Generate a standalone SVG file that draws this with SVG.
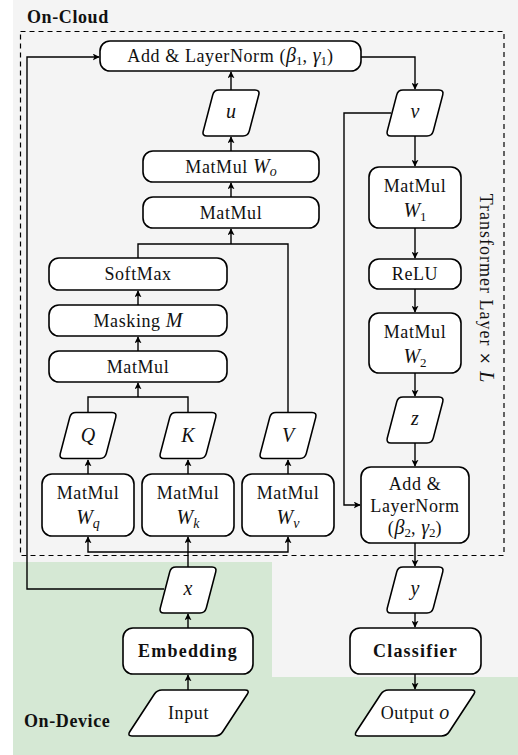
<svg xmlns="http://www.w3.org/2000/svg" width="518" height="755" viewBox="0 0 518 755">
<style>
.box{fill:#fff;stroke:#000;stroke-width:1.6}
.t{font-family:"Liberation Serif","Times New Roman",serif;font-size:18px;letter-spacing:0.6px;fill:#111;text-anchor:middle}
.b{font-weight:bold;letter-spacing:1.2px}
.m{font-family:"Liberation Serif",serif;font-style:italic;font-size:20px;letter-spacing:0}
.s{font-family:"Liberation Serif",serif;font-style:normal;font-size:13px;letter-spacing:0}
.si{font-family:"Liberation Serif",serif;font-style:italic;font-size:14px;letter-spacing:0}
.c{fill:none;stroke:#000;stroke-width:1.4}
.hd{font-family:"Liberation Serif","Times New Roman",serif;font-size:18px;font-weight:bold;letter-spacing:0.6px;fill:#111}
</style>
<defs>
<marker id="ar" viewBox="0 0 10 10" refX="9" refY="5" markerWidth="7" markerHeight="7" markerUnits="userSpaceOnUse" orient="auto">
<path d="M0,0 L10,5 L0,10 L2.5,5 Z" fill="#000"/>
</marker>
<path id="pg" d="M-12,-23 L24,-23 Q29,-23 27.74,-18.16 L18.26,18.16 Q17,23 12,23 L-24,23 Q-29,23 -27.74,18.16 L-18.26,-18.16 Q-17,-23 -12,-23 Z"/>
<path id="pgw" d="M-26.5,-23 L56.5,-23 Q61.5,-23 58.77,-18.81 L34.23,18.81 Q31.5,23 26.5,23 L-56.5,23 Q-61.5,23 -58.77,18.81 L-34.23,-18.81 Q-31.5,-23 -26.5,-23 Z"/>
</defs>
<!-- backgrounds -->
<rect x="0" y="0" width="518" height="755" fill="#fff"/>
<rect x="13" y="0" width="505" height="677" fill="#f4f4f4"/>
<path d="M13,562 H272 V677 H518 V755 H13 Z" fill="#d5e8d4"/>
<text class="hd" x="27" y="23" text-anchor="start">On-Cloud</text>
<text class="hd" x="24" y="727" text-anchor="start">On-Device</text>
<rect x="20.5" y="31.5" width="483.5" height="524" fill="none" stroke="#000" stroke-width="1.2" stroke-dasharray="5,4"/>
<text class="t" transform="translate(480,288) rotate(90)" style="letter-spacing:1px">Transformer Layer  <tspan font-family="DejaVu Sans, sans-serif" font-size="15px">×</tspan>  <tspan class="m" font-size="22px">L</tspan></text>

<g id="connectors">
<path class="c" d="M164,589 H27 V57 H99" marker-end="url(#ar)"/>
<path class="c" d="M188,567 V537" marker-end="url(#ar)"/>
<path class="c" d="M188,552 H88 V537" marker-end="url(#ar)"/>
<path class="c" d="M188,552 H288 V537" marker-end="url(#ar)"/>
<path class="c" d="M88,474 V460" marker-end="url(#ar)"/>
<path class="c" d="M188,474 V460" marker-end="url(#ar)"/>
<path class="c" d="M288,474 V460" marker-end="url(#ar)"/>
<path class="c" d="M88,412 V397 H188 V412"/>
<path class="c" d="M138,397 V383" marker-end="url(#ar)"/>
<path class="c" d="M138,351 V337" marker-end="url(#ar)"/>
<path class="c" d="M138,305 V291" marker-end="url(#ar)"/>
<path class="c" d="M138,258 V244 H288 V412"/>
<path class="c" d="M231,244 V229" marker-end="url(#ar)"/>
<path class="c" d="M231,197 V183" marker-end="url(#ar)"/>
<path class="c" d="M231,151 V137" marker-end="url(#ar)"/>
<path class="c" d="M231,90 V72" marker-end="url(#ar)"/>
<path class="c" d="M361,57 H415 V89" marker-end="url(#ar)"/>
<path class="c" d="M415,136 V166" marker-end="url(#ar)"/>
<path class="c" d="M415,228 V258" marker-end="url(#ar)"/>
<path class="c" d="M415,289 V312" marker-end="url(#ar)"/>
<path class="c" d="M415,373 V396" marker-end="url(#ar)"/>
<path class="c" d="M415,443 V466" marker-end="url(#ar)"/>
<path class="c" d="M391,113 H344 V505 H360" marker-end="url(#ar)"/>
<path class="c" d="M415,543 V566" marker-end="url(#ar)"/>
<path class="c" d="M415,613 V627" marker-end="url(#ar)"/>
<path class="c" d="M415,674 V689" marker-end="url(#ar)"/>
<path class="c" d="M188,628 V614" marker-end="url(#ar)"/>
<path class="c" d="M188,690 V675" marker-end="url(#ar)"/>
</g>

<g id="addnorm1"><rect class="box" x="100" y="41" width="261" height="30" rx="10"/>
<text class="t" x="230.5" y="62">Add &amp; LayerNorm (<tspan class="m" font-size="18px">β</tspan><tspan class="s" dy="3">1</tspan><tspan dy="-3">, </tspan><tspan class="m" font-size="18px">γ</tspan><tspan class="s" dy="3">1</tspan><tspan dy="-3">)</tspan></text></g>
<g id="u"><use href="#pg" class="box" transform="translate(231,113)"/><text class="t m" x="231" y="118">u</text></g>
<g id="matmul_wo"><rect class="box" x="143" y="151" width="176" height="31" rx="10"/>
<text class="t" x="231" y="173">MatMul <tspan class="m">W</tspan><tspan class="si" dy="3">o</tspan></text></g>
<g id="matmul2"><rect class="box" x="143" y="197" width="176" height="31" rx="10"/>
<text class="t" x="231" y="219">MatMul</text></g>
<g id="softmax"><rect class="box" x="49" y="258" width="178" height="32" rx="10"/>
<text class="t" x="138" y="280">SoftMax</text></g>
<g id="masking"><rect class="box" x="49" y="305" width="178" height="31" rx="10"/>
<text class="t" x="138" y="327">Masking <tspan class="m">M</tspan></text></g>
<g id="matmul1"><rect class="box" x="49" y="351" width="178" height="31" rx="10"/>
<text class="t" x="138" y="373">MatMul</text></g>
<g id="Q"><use href="#pg" class="box" transform="translate(88,435.5)"/><text class="t m" x="88" y="442">Q</text></g>
<g id="K"><use href="#pg" class="box" transform="translate(188,435.5)"/><text class="t m" x="188" y="442">K</text></g>
<g id="V"><use href="#pg" class="box" transform="translate(288,435.5)"/><text class="t m" x="288" y="442">V</text></g>
<g id="wq"><rect class="box" x="42" y="474" width="92" height="62" rx="10"/>
<text class="t" x="88" y="499">MatMul</text><text class="t" x="88" y="524"><tspan class="m">W</tspan><tspan class="si" dy="4">q</tspan></text></g>
<g id="wk"><rect class="box" x="142" y="474" width="92" height="62" rx="10"/>
<text class="t" x="188" y="499">MatMul</text><text class="t" x="188" y="524"><tspan class="m">W</tspan><tspan class="si" dy="4">k</tspan></text></g>
<g id="wv"><rect class="box" x="242" y="474" width="92" height="62" rx="10"/>
<text class="t" x="288" y="499">MatMul</text><text class="t" x="288" y="524"><tspan class="m">W</tspan><tspan class="si" dy="4">v</tspan></text></g>
<g id="x"><use href="#pg" class="box" transform="translate(188,590)"/><text class="t m" x="188" y="595">x</text></g>
<g id="embedding"><rect class="box" x="123" y="628" width="130" height="46" rx="10"/>
<text class="t b" x="188" y="657">Embedding</text></g>
<g id="input"><use href="#pgw" class="box" transform="translate(188.5,713)"/><text class="t" x="188.5" y="719">Input</text></g>
<g id="v"><use href="#pg" class="box" transform="translate(415,113)"/><text class="t m" x="415" y="118">v</text></g>
<g id="w1"><rect class="box" x="369" y="167" width="92" height="61" rx="10"/>
<text class="t" x="415" y="192">MatMul</text><text class="t" x="415" y="217"><tspan class="m">W</tspan><tspan class="s" dy="4">1</tspan></text></g>
<g id="relu"><rect class="box" x="369" y="259" width="92" height="30" rx="10"/>
<text class="t" x="415" y="280">ReLU</text></g>
<g id="w2"><rect class="box" x="369" y="313" width="92" height="60" rx="10"/>
<text class="t" x="415" y="338">MatMul</text><text class="t" x="415" y="363"><tspan class="m">W</tspan><tspan class="s" dy="4">2</tspan></text></g>
<g id="z"><use href="#pg" class="box" transform="translate(415,420)"/><text class="t m" x="415" y="425">z</text></g>
<g id="addnorm2"><rect class="box" x="361" y="467" width="108" height="76" rx="10"/>
<text class="t" x="415" y="490">Add &amp;</text><text class="t" x="415" y="512">LayerNorm</text>
<text class="t" x="415" y="534">(<tspan class="m" font-size="18px">β</tspan><tspan class="s" dy="3">2</tspan><tspan dy="-3">, </tspan><tspan class="m" font-size="18px">γ</tspan><tspan class="s" dy="3">2</tspan><tspan dy="-3">)</tspan></text></g>
<g id="y"><use href="#pg" class="box" transform="translate(415,590)"/><text class="t m" x="415" y="595">y</text></g>
<g id="classifier"><rect class="box" x="350" y="628" width="131" height="46" rx="10"/>
<text class="t b" x="415.5" y="657">Classifier</text></g>
<g id="output"><use href="#pgw" class="box" transform="translate(415,713)"/><text class="t" x="415" y="719">Output <tspan class="m">o</tspan></text></g>
</svg>
